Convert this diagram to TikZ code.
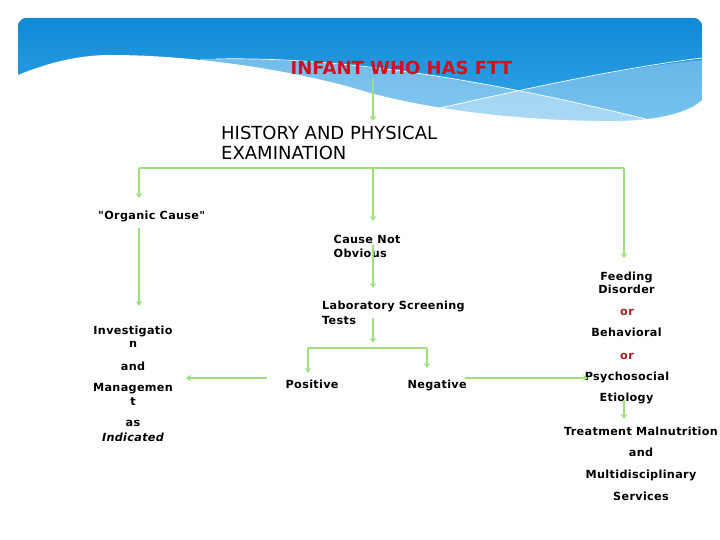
\documentclass[tikz,border=0pt]{standalone}
\usepackage{fontspec}
\setmainfont{DejaVu Sans}[Ligatures=TeXOff]
\usetikzlibrary{arrows.meta}
\definecolor{arrgreen}{HTML}{9EE07E}
\definecolor{titlered}{HTML}{D0101C}
\definecolor{orred}{HTML}{A01E1E}
\definecolor{bandtop}{HTML}{0F8AD6}
\definecolor{bandbot}{HTML}{3AA8EA}
\begin{document}
\begin{tikzpicture}[x=1pt,y=-1pt,
  ln/.style={draw=arrgreen, line width=2.6pt},
  arr/.style={ln, -{Stealth[length=5pt,width=6.5pt]}},
  txt/.style={font=\fontsize{11.2}{14}\selectfont\bfseries\addfontfeature{LetterSpace=3}, inner sep=0pt, text=black},
  ortxt/.style={txt, text=orred},
  histtxt/.style={font=\fontsize{18}{20}\selectfont, inner sep=0pt, text=black},
  titletxt/.style={font=\fontsize{18}{20}\selectfont\bfseries, inner sep=0pt, text=titlered}]
\useasboundingbox (0,0) rectangle (720,540);
% header band
\begin{scope}
\clip[rounded corners=9pt] (18,18) rectangle (702,220);
\fill[top color=bandtop, bottom color=bandbot] (18,18) rectangle (702,130);
\fill[white, opacity=0.38] (200,59) .. controls (360,56) and (520,88) .. (650,120) -- (702,130) -- (200,130) -- cycle;
\fill[white, opacity=0.32] (420,112) .. controls (520,90) and (620,68) .. (702,60) -- (702,130) -- (420,130) -- cycle;
\fill[white] (18,75) .. controls (50,62) and (80,55) .. (110,55) .. controls (200,55) and (300,72) .. (360,90) .. controls (420,108) and (520,122) .. (620,121) .. controls (660,120) and (690,112) .. (702,100) -- (702,220) -- (18,220) -- cycle;
\draw[white, line width=0.7pt] (216,59) .. controls (360,56) and (520,88) .. (650,120);
\draw[white, line width=0.7pt] (440,108) .. controls (520,90) and (620,68) .. (702,58);
\end{scope}
% texts
\node[titletxt, anchor=base west] (title) at (290.5,75) {INFANT WHO HAS FTT};
\node[histtxt, anchor=base west] (hist1) at (221,140) {HISTORY AND PHYSICAL};
\node[histtxt, anchor=base west] (hist2) at (221,159.5) {EXAMINATION};
\node[txt, anchor=base west] (organic) at (98,220) {"Organic Cause"};
\node[txt, anchor=base west] (cno1) at (333.5,243.3) {Cause Not};
\node[txt, anchor=base west] (cno2) at (333.5,257.7) {Obvious};
\node[txt, anchor=base west] (lab1) at (322,309) {Laboratory Screening};
\node[txt, anchor=base west] (lab2) at (322,324) {Tests};
\node[txt, anchor=base] (inv1) at (133,334) {Investigatio};
\node[txt, anchor=base] (inv2) at (133,347.7) {n};
\node[txt, anchor=base] (inv3) at (133,370) {and};
\node[txt, anchor=base] (inv4) at (133,391) {Managemen};
\node[txt, anchor=base] (inv5) at (133,405.7) {t};
\node[txt, anchor=base] (inv6) at (133,426.7) {as};
\node[txt, anchor=base] (inv7) at (133,441) {\itshape Indicated};
\node[txt, anchor=base west] (pos) at (285.5,388.3) {Positive};
\node[txt, anchor=base west] (neg) at (407.5,388.3) {Negative};
\node[txt, anchor=base] (fd1) at (626.5,280) {Feeding};
\node[txt, anchor=base] (fd2) at (626.5,293.3) {Disorder};
\node[ortxt, anchor=base] (or1) at (627,315.7) {or};
\node[txt, anchor=base] (fd3) at (626.5,336.7) {Behavioral};
\node[ortxt, anchor=base] (or2) at (627,359) {or};
\node[txt, anchor=base] (fd4) at (627,380) {Psychosocial};
\node[txt, anchor=base] (fd5) at (626.5,401.7) {Etiology};
\node[txt, anchor=base] (tr1) at (641,435) {Treatment Malnutrition};
\node[txt, anchor=base] (tr2) at (641,456.7) {and};
\node[txt, anchor=base] (tr3) at (641,478.3) {Multidisciplinary};
\node[txt, anchor=base] (tr4) at (641,500) {Services};
% connector points
\coordinate (t0) at (373,78);
\coordinate (t1) at (373,121);
\coordinate (bl) at (139,168);
\coordinate (bm) at (373,168);
\coordinate (br) at (624,168);
\coordinate (bl1) at (139,198);
\coordinate (bm1) at (373,221);
\coordinate (br1) at (624,258);
\coordinate (o0) at (139,228);
\coordinate (o1) at (139,306);
\coordinate (c0) at (373,245);
\coordinate (c1) at (373,288);
\coordinate (l0) at (373,318);
\coordinate (l1) at (373,343);
\coordinate (pl) at (308,348);
\coordinate (pr) at (427,348);
\coordinate (pl1) at (308,373);
\coordinate (pr1) at (427,368);
\coordinate (p0) at (267,378);
\coordinate (p1) at (186,378);
\coordinate (n0) at (465,378);
\coordinate (n1) at (588,378);
\coordinate (e0) at (624,400);
\coordinate (e1) at (624,419);
% connectors
\draw[arr] (t0) -- (t1);
\draw[ln] (bl) -- (br);
\draw[arr] (bl) -- (bl1);
\draw[arr] (bm) -- (bm1);
\draw[arr] (br) -- (br1);
\draw[arr] (o0) -- (o1);
\draw[arr] (c0) -- (c1);
\draw[arr] (l0) -- (l1);
\draw[ln] (pl) -- (pr);
\draw[arr] (pl) -- (pl1);
\draw[arr] (pr) -- (pr1);
\draw[arr] (p0) -- (p1);
\draw[arr] (n0) -- (n1);
\draw[arr] (e0) -- (e1);
\end{tikzpicture}
\end{document}
